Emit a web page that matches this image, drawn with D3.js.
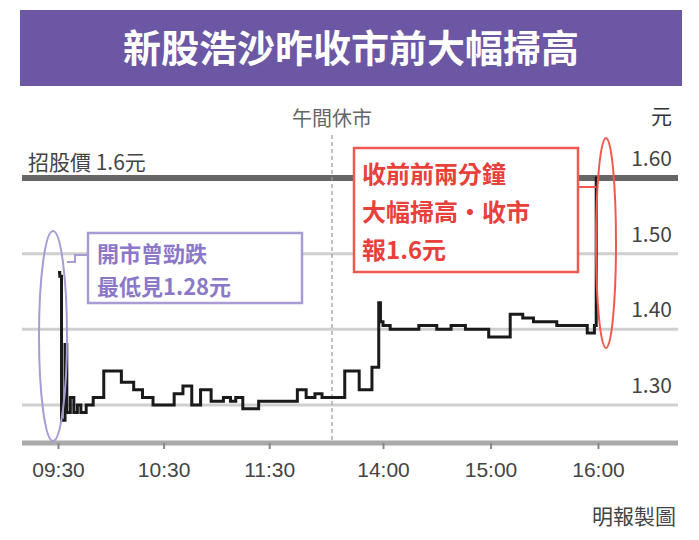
<!DOCTYPE html>
<html><head><meta charset="utf-8">
<script src="https://cdn.jsdelivr.net/npm/d3@7"></script>
<style>body{margin:0;background:#fff}svg{font-family:"Noto Sans CJK TC","Liberation Sans",sans-serif}</style>
</head><body>
<svg id="c" width="699" height="540"></svg>
<script>
// intraday trade data
const times = ["09:30","09:31","09:32","09:34","09:35","09:37","09:39","09:41","09:43","09:46","09:50","09:56","10:01","10:06","10:13","10:18","10:24","10:31","10:36","10:41","10:46","10:51","10:57","11:04","11:08","11:11","11:15","11:24","11:41","11:46","11:51","11:56","12:00",
  "13:02","13:15","13:32","13:47","13:55","13:57","14:00","14:04","14:10","14:20","14:30","14:38","14:46","14:59","15:07","15:11","15:18","15:24","15:31","15:37","15:45","15:54","15:58","15:59","16:00"];
const prices = [1.475,1.47,1.28,1.38,1.29,1.31,1.29,1.30,1.29,1.30,1.31,1.345,1.345,1.33,1.32,1.31,1.30,1.30,1.315,1.325,1.30,1.32,1.305,1.31,1.305,1.31,1.295,1.305,1.305,1.32,1.31,1.315,1.31,
  1.31,1.345,1.32,1.35,1.435,1.41,1.405,1.40,1.40,1.405,1.40,1.405,1.40,1.39,1.39,1.42,1.415,1.41,1.41,1.405,1.405,1.395,1.405,1.60,1.60];
const yTicks = [1.30,1.40,1.50,1.60];
const xTicks = ["09:30","10:30","11:30","14:00","15:00","16:00"];
const ipoPrice = 1.6;

const svg = d3.select("#c");
const mins = s => { const [h,m] = s.split(":").map(Number); return h*60+m; };
// lunch break squeezed into a narrow gap
const x = d3.scaleLinear().domain([570,720,780,840,960]).range([58,322,332,383,598]);
const y = d3.scaleLinear().domain([1.30,1.60]).range([405,178]);

// title bar
svg.append("rect").attr("x",20).attr("y",10).attr("width",662).attr("height",76).attr("fill","#6b57a3");
svg.append("text").attr("x",351).attr("y",62).attr("text-anchor","middle").attr("fill","#fff")
  .attr("font-size",38).attr("font-weight","bold").text("新股浩沙昨收市前大幅掃高");

// grid
svg.selectAll(".g").data(yTicks.filter(d=>d<1.6)).join("line")
  .attr("x1",22).attr("x2",678).attr("y1",d=>y(d)).attr("y2",d=>y(d))
  .attr("stroke","#cfcfcf").attr("stroke-width",3);
svg.selectAll(".yl").data(yTicks).join("text")
  .attr("x",672).attr("y",d=>y(d)-12).attr("text-anchor","end")
  .attr("font-size",21).attr("fill","#444").text(d=>d.toFixed(2));
svg.append("text").attr("x",672).attr("y",124).attr("text-anchor","end").attr("font-size",21).attr("fill","#333").text("元");

// ipo price line
svg.append("line").attr("x1",22).attr("x2",678).attr("y1",y(ipoPrice)).attr("y2",y(ipoPrice))
  .attr("stroke","#666").attr("stroke-width",6);
svg.append("text").attr("x",28).attr("y",170).attr("font-size",21).attr("fill","#444").text("招股價 1.6元");

// lunch break
svg.append("line").attr("x1",332).attr("x2",332).attr("y1",135).attr("y2",440)
  .attr("stroke","#999").attr("stroke-width",1.2).attr("stroke-dasharray","4,3");
svg.append("text").attr("x",332).attr("y",126).attr("text-anchor","middle").attr("font-size",20).attr("fill","#666").text("午間休市");

// bottom axis
const ax = svg.append("g").attr("transform","translate(0,443)")
  .call(d3.axisBottom(x).tickValues(xTicks.map(mins)).tickFormat((d,i)=>xTicks[i]).tickSize(6).tickSizeOuter(0));
ax.select(".domain").attr("stroke","#aaa").attr("stroke-width",5).attr("d","M22,0H678");
ax.selectAll(".tick line").attr("stroke","#888").attr("stroke-width",2);
ax.selectAll(".tick text").attr("font-size",21).attr("fill","#444").attr("dy","1.2em")
  .attr("font-family","Liberation Sans,sans-serif");

// price line
const pts = times.map((t,i)=>[mins(t),prices[i]]);
svg.append("path").datum(pts).attr("fill","none").attr("stroke","#1a1a1a").attr("stroke-width",3)
  .attr("d",d3.line().x(d=>x(d[0])).y(d=>y(d[1])).curve(d3.curveStepAfter));

// annotations
const pur = "#a99bd3", red = "#ef5a50";
svg.append("ellipse").attr("cx",53).attr("cy",336).attr("rx",14).attr("ry",105).attr("fill","none").attr("stroke",pur).attr("stroke-width",2);
svg.append("path").attr("d","M67,262H75V255H88").attr("fill","none").attr("stroke",pur).attr("stroke-width",2);
svg.append("rect").attr("x",88).attr("y",233).attr("width",214).attr("height",70).attr("fill","#fff").attr("stroke",pur).attr("stroke-width",2.5);
svg.append("text").attr("x",97).attr("y",262).attr("font-size",22).attr("font-weight","bold").attr("fill","#8c78c8").text("開市曾勁跌");
svg.append("text").attr("x",97).attr("y",295).attr("font-size",22).attr("font-weight","bold").attr("fill","#8c78c8").text("最低見1.28元");

svg.append("ellipse").attr("cx",606).attr("cy",243).attr("rx",10).attr("ry",105).attr("fill","none").attr("stroke",red).attr("stroke-width",2);
svg.append("path").attr("d","M578,187H596").attr("stroke",red).attr("stroke-width",2);
svg.append("rect").attr("x",354).attr("y",148).attr("width",224).attr("height",124).attr("fill","#fff").attr("stroke",red).attr("stroke-width",2.5);
["收前前兩分鐘","大幅掃高‧收市","報1.6元"].forEach((s,i)=>
  svg.append("text").attr("x",362).attr("y",183+i*38).attr("font-size",24).attr("font-weight","bold").attr("fill","#e8403a").text(s));

svg.append("text").attr("x",676).attr("y",524).attr("text-anchor","end").attr("font-size",21).attr("fill","#444").text("明報製圖");
</script>
</body></html>
